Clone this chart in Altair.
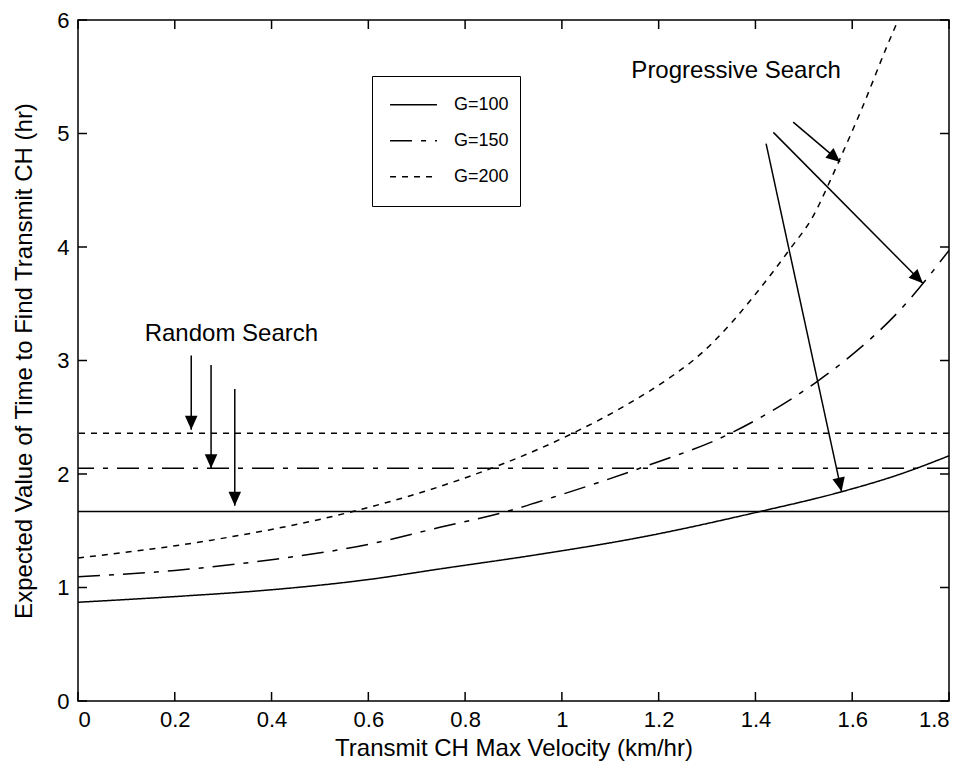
import math
import altair as alt
import pandas as pd

# ---------------- data ----------------
groups = ["G=100", "G=150", "G=200"]

x_g100 = [0, 0.2, 0.4, 0.6, 0.75, 0.95, 1.16, 1.41, 1.575, 1.7, 1.8]
y_g100 = [0.87, 0.92, 0.98, 1.07, 1.165, 1.29, 1.44, 1.67, 1.84, 2.0, 2.16]

x_g150 = [0, 0.2, 0.4, 0.6, 0.748, 0.886, 1.0, 1.161, 1.354, 1.526, 1.588, 1.70, 1.8]
y_g150 = [1.095, 1.15, 1.245, 1.38, 1.53, 1.67, 1.82, 2.05, 2.37, 2.81, 3.01, 3.45, 3.97]

x_g200 = [0, 0.273, 0.568, 0.748, 1.023, 1.13, 1.23, 1.271, 1.436, 1.471, 1.519, 1.554, 1.575, 1.62, 1.671, 1.695]
y_g200 = [1.26, 1.415, 1.67, 1.89, 2.36, 2.6, 2.87, 3.0, 3.78, 3.98, 4.27, 4.58, 4.78, 5.22, 5.76, 6.0]

# random search (horizontal) levels
random_levels = [1.67, 2.05, 2.36]

x_ticks = [0, 0.2, 0.4, 0.6, 0.8, 1.0, 1.2, 1.4, 1.6, 1.8]
y_ticks = [0, 1, 2, 3, 4, 5, 6]

# arrows: start (x, y) -> tip (x2, y2)
arrow_x1 = [0.234, 0.275, 0.324, 1.478, 1.437, 1.422]
arrow_y1 = [3.045, 2.96, 2.75, 5.10, 5.01, 4.91]
arrow_x2 = [0.234, 0.275, 0.324, 1.575, 1.746, 1.578]
arrow_y2 = [2.39, 2.05, 1.72, 4.75, 3.68, 1.845]

note_text = ["Random Search", "Progressive Search"]
note_x = [0.317, 1.36]
note_y = [3.23, 5.55]

# ---------------- layout ----------------
W, H = 871, 681
XMAX, YMAX = 1.8, 6.0
FONT = "Liberation Sans"

xs = alt.Scale(domain=[0, XMAX], nice=False, zero=False)
ys = alt.Scale(domain=[0, YMAX], nice=False, zero=False)
dash_scale = alt.Scale(domain=groups, range=[[1, 0], [22, 9, 5, 9], [6, 6]])

legend = alt.Legend(
    title=None, orient="none", legendX=294, legendY=56,
    strokeColor="black", fillColor="white", padding=11,
    symbolType="stroke", symbolStrokeWidth=1.5, symbolStrokeColor="black",
    symbolSize=2200, symbolOffset=6, clipHeight=35.5,
    labelFontSize=18, labelFont=FONT, labelColor="black",
    labelOffset=16, rowPadding=0,
)

rows = []
for g, xv, yv in zip(groups, [x_g100, x_g150, x_g200], [y_g100, y_g150, y_g200]):
    for i, (a, b) in enumerate(zip(xv, yv)):
        rows.append({"G": g, "v": a, "t": b, "i": i})
curve_df = pd.DataFrame(rows)

level_df = pd.DataFrame({"G": groups, "t": random_levels})

xaxis = alt.Axis(values=x_ticks, ticks=False, domain=False, grid=False,
                 labelFontSize=22, labelFont=FONT, labelColor="black",
                 labelPadding=8, titleFontSize=24, titleFont=FONT,
                 titleFontWeight="normal", titleColor="black", titlePadding=6,
                 labelExpr="datum.value == 1 ? '1' : format(datum.value, '.1~f')")
yaxis = alt.Axis(values=y_ticks, ticks=False, domain=False, grid=False,
                 labelFontSize=22, labelFont=FONT, labelColor="black",
                 labelPadding=9, titleFontSize=24, titleFont=FONT,
                 titleFontWeight="normal", titleColor="black", titlePadding=20,
                 format="d")

curves = alt.Chart(curve_df).mark_line(
    color="black", strokeWidth=1.5, interpolate="monotone", clip=True
).encode(
    x=alt.X("v:Q", scale=xs, axis=xaxis, title="Transmit CH Max Velocity (km/hr)"),
    y=alt.Y("t:Q", scale=ys, axis=yaxis, title="Expected Value of Time to Find Transmit CH (hr)"),
    strokeDash=alt.StrokeDash("G:N", scale=dash_scale, legend=legend),
    order="i:Q",
)

levels = alt.Chart(level_df).mark_rule(color="black", strokeWidth=1.5).encode(
    y=alt.Y("t:Q", scale=ys),
    strokeDash=alt.StrokeDash("G:N", scale=dash_scale, legend=legend),
)

xt_df = pd.DataFrame({"v": x_ticks})
yt_df = pd.DataFrame({"t": y_ticks})
TL = 9
xt_bottom = alt.Chart(xt_df).mark_rule(color="black", strokeWidth=1.5).encode(
    x=alt.X("v:Q", scale=xs), y=alt.value(H), y2=alt.value(H - TL))
xt_top = alt.Chart(xt_df).mark_rule(color="black", strokeWidth=1.5).encode(
    x=alt.X("v:Q", scale=xs), y=alt.value(0), y2=alt.value(TL))
yt_left = alt.Chart(yt_df).mark_rule(color="black", strokeWidth=1.5).encode(
    y=alt.Y("t:Q", scale=ys), x=alt.value(0), x2=alt.value(TL))
yt_right = alt.Chart(yt_df).mark_rule(color="black", strokeWidth=1.5).encode(
    y=alt.Y("t:Q", scale=ys), x=alt.value(W - TL), x2=alt.value(W))

angles = []
for a1, b1, a2, b2 in zip(arrow_x1, arrow_y1, arrow_x2, arrow_y2):
    dx = (a2 - a1) / XMAX * W
    dy = -(b2 - b1) / YMAX * H
    angles.append(math.degrees(math.atan2(dx, -dy)) % 360)
arrow_df = pd.DataFrame({"x1": arrow_x1, "y1": arrow_y1, "x2": arrow_x2,
                         "y2": arrow_y2, "ang": angles})

shafts = alt.Chart(arrow_df).mark_rule(color="black", strokeWidth=1.5).encode(
    x=alt.X("x1:Q", scale=xs), y=alt.Y("y1:Q", scale=ys),
    x2="x2:Q", y2="y2:Q")
heads = alt.Chart(arrow_df).mark_point(
    shape="M0,0L-0.45,1L0.45,1Z", filled=True, color="black", opacity=1, size=780
).encode(
    x=alt.X("x2:Q", scale=xs), y=alt.Y("y2:Q", scale=ys),
    angle=alt.Angle("ang:Q", scale=None))

note_df = pd.DataFrame({"txt": note_text, "x": note_x, "y": note_y})
notes = alt.Chart(note_df).mark_text(
    font=FONT, fontSize=24, color="black", align="center", baseline="middle"
).encode(x=alt.X("x:Q", scale=xs), y=alt.Y("y:Q", scale=ys), text="txt:N")

chart = alt.layer(
    levels, curves, xt_bottom, xt_top, yt_left, yt_right, shafts, heads, notes
).properties(
    width=W, height=H,
    autosize=alt.AutoSizeParams(type="none"),
    padding={"left": 70, "top": 12, "right": 10, "bottom": 62},
    background="white",
).configure_view(
    stroke="black", strokeWidth=1.5
)

chart.save("out.html", embed_options={"renderer": "svg", "actions": False})
